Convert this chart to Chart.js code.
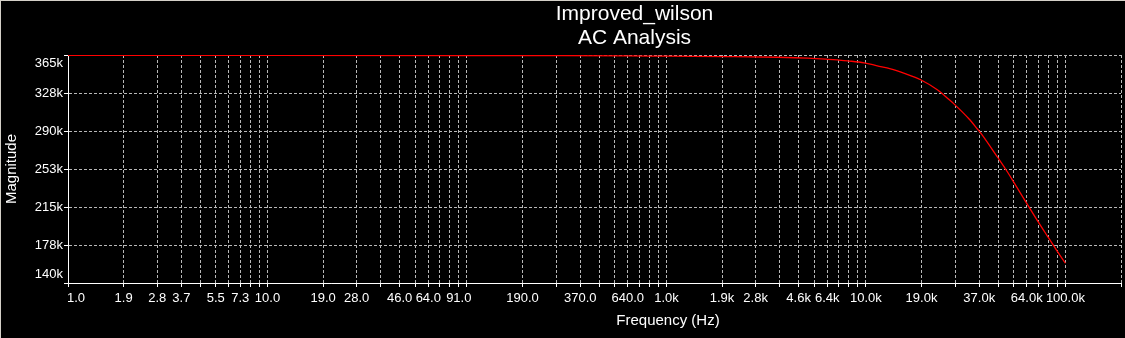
<!DOCTYPE html>
<html>
<head>
<meta charset="utf-8">
<title>Improved_wilson - AC Analysis</title>
<script src="https://cdn.jsdelivr.net/npm/chart.js"></script>
<style>
  html, body { margin: 0; padding: 0; background: #000; }
  .wrap { position: relative; width: 1125px; height: 338px; }
  .edge-top { position: absolute; left: 0; top: 0; width: 1125px; height: 1px; background: #d4d0c8; }
  .edge-left { position: absolute; left: 0; top: 0; width: 1px; height: 338px; background: #d4d0c8; }
</style>
</head>
<body>
<div class="wrap">
  <canvas id="chart" width="1125" height="338"></canvas>
  <div class="edge-top"></div>
  <div class="edge-left"></div>
</div>
<script>
// 数据：频率 (Hz) 和幅值
const freqHz = [1, 10, 100, 300, 640, 1000, 2000, 3600, 5100, 6300, 7200, 8100, 9800,
  11400, 13300, 15600, 18800, 22800, 26100, 27700, 32900, 36200, 38300, 45700,
  50100, 54300, 63100, 72400, 81700, 90600, 100000];
const magnitude = [364600, 364600, 364500, 364400, 364100, 363800, 363400, 362800, 362000,
  361000, 360100, 359200, 357300, 354300, 351300, 346800, 340600, 330700, 321000,
  316500, 301800, 292000, 286000, 264100, 252500, 241600, 220500, 201500, 185500,
  172000, 159500];

// 纵轴刻度
const yTickValues = [140000, 177500, 215000, 252500, 290000, 327500, 365000];
const yTickLabels = ['140k', '178k', '215k', '253k', '290k', '328k', '365k'];

// 横轴网格 (每个十倍程 1.0, 1.9, 2.8 ... 9.1)
const xGridSteps = [10, 19, 28, 37, 46, 55, 64, 73, 82, 91];
const xDecades = [1, 10, 100, 1000, 10000];
const xGridValues = xDecades.flatMap(d => xGridSteps.map(s => s * d / 10)).concat([100000, 190000]);

// 横轴上显示文字的刻度
const xLabelValues = [1, 1.9, 2.8, 3.7, 5.5, 7.3, 10, 19, 28, 46, 64, 91, 190, 370, 640,
  1000, 1900, 2800, 4600, 6400, 10000, 19000, 37000, 64000, 100000];
const xLabelTexts = ['1.0', '1.9', '2.8', '3.7', '5.5', '7.3', '10.0', '19.0', '28.0', '46.0',
  '64.0', '91.0', '190.0', '370.0', '640.0', '1.0k', '1.9k', '2.8k', '4.6k', '6.4k', '10.0k',
  '19.0k', '37.0k', '64.0k', '100.0k'];

const FONT = "'Liberation Sans', Arial, sans-serif";

function xLabel(v) {
  const i = xLabelValues.findIndex(l => Math.abs(l - v) / l < 1e-6);
  return i < 0 ? '' : xLabelTexts[i];
}

// 标题位置、边缘刻度文字位置微调
const tweak = {
  id: 'tweak',
  afterLayout(chart) {
    const t = chart.titleBlock;
    if (t) { t.left += 73; t.right += 73; }
  },
  beforeDraw(chart) {
    const ctx = chart.ctx;
    ctx.save();
    ctx.fillStyle = '#000';
    ctx.fillRect(0, 0, chart.width, chart.height);
    ctx.restore();

    const yItems = chart.scales.y.getLabelItems();
    if (yItems.length) {
      yItems[0].options.translation[1] -= 9;
      yItems[yItems.length - 1].options.translation[1] += 8;
    }
    const xItems = chart.scales.x.getLabelItems();
    if (xItems.length) xItems[0].options.translation[0] += 8;
  },
  afterDraw(chart) {
    const ctx = chart.ctx;
    ctx.save();
    ctx.fillStyle = '#fff';
    ctx.font = '15px ' + FONT;
    ctx.textAlign = 'center';
    ctx.textBaseline = 'middle';
    ctx.fillText('Frequency (Hz)', 668, 321);
    ctx.restore();
  }
};

const gridStyle = { color: '#b8b8b8', lineWidth: 1, tickColor: '#fff', tickLength: 4, tickWidth: 1 };
const borderStyle = { display: true, color: '#fff', width: 1, dash: [3, 2] };

new Chart(document.getElementById('chart'), {
  type: 'line',
  data: {
    datasets: [{
      label: 'Magnitude',
      data: freqHz.map((f, i) => ({ x: f, y: magnitude[i] })),
      borderColor: '#ff0000',
      borderWidth: 1.3,
      pointRadius: 0,
      fill: false,
      cubicInterpolationMode: 'monotone'
    }]
  },
  options: {
    responsive: false,
    animation: false,
    layout: { padding: { left: 0, right: 2, top: 0, bottom: 0 } },
    plugins: {
      legend: { display: false },
      tooltip: { enabled: false },
      title: {
        display: true,
        text: ['Improved_wilson', 'AC Analysis'],
        color: '#fff',
        font: { family: FONT, size: 21, weight: 'normal', lineHeight: '24px' },
        padding: { top: 2, bottom: 5 }
      }
    },
    scales: {
      x: {
        type: 'logarithmic',
        min: 1,
        max: 190000,
        afterBuildTicks: s => { s.ticks = xGridValues.map(v => ({ value: v })); },
        afterFit: s => { s.height = 55; },
        ticks: {
          autoSkip: false, maxRotation: 0, minRotation: 0,
          color: '#fff', padding: 4,
          font: { family: FONT, size: 13 },
          callback: v => xLabel(v)
        },
        grid: gridStyle,
        border: borderStyle
      },
      y: {
        type: 'linear',
        min: 140000,
        max: 365000,
        afterBuildTicks: s => { s.ticks = yTickValues.map(v => ({ value: v })); },
        afterFit: s => { s.width = 68; },
        ticks: {
          color: '#fff', padding: 1,
          font: { family: FONT, size: 13 },
          callback: (v, i) => yTickLabels[yTickValues.indexOf(v)] || ''
        },
        grid: gridStyle,
        border: borderStyle,
        title: {
          display: true,
          text: 'Magnitude',
          color: '#fff',
          font: { family: FONT, size: 15 },
          padding: { top: 3, bottom: 0 }
        }
      }
    }
  },
  plugins: [tweak]
});
</script>
</body>
</html>
